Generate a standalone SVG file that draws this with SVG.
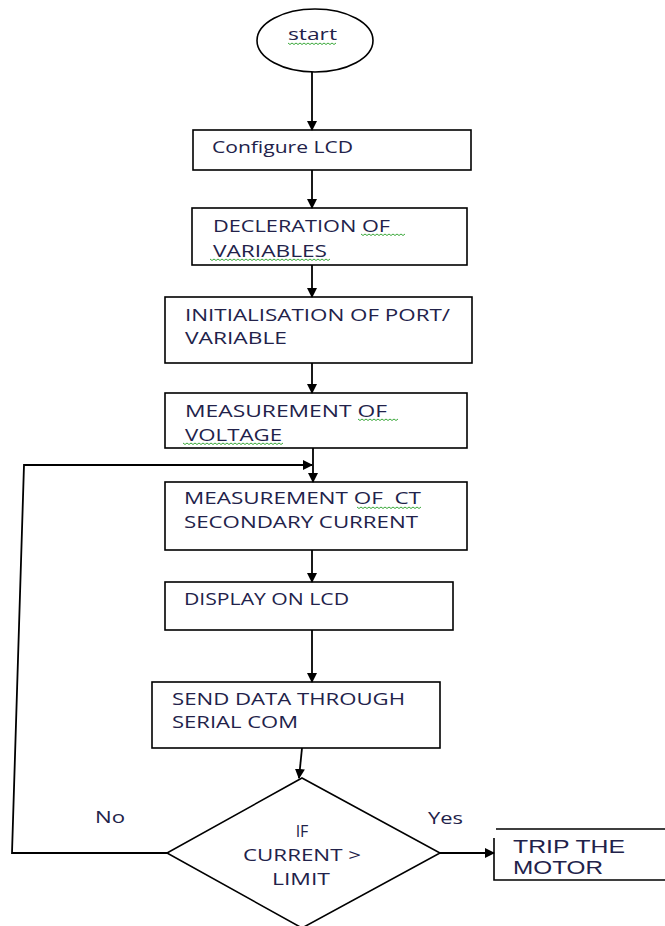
<svg xmlns="http://www.w3.org/2000/svg" width="665" height="926" viewBox="0 0 665 926">
<style>
.box{fill:#fff;stroke:#000;stroke-width:1.6}
.t{font-family:"Open Sans","Liberation Sans",sans-serif;font-size:16px;fill:#22224a}
.a{font-family:"Liberation Sans",Arial,sans-serif;font-size:18px;fill:#22224a}
.c{fill:none;stroke:#000;stroke-width:1.8}
.sq{fill:none;stroke:#3aa83a;stroke-width:1}
</style>
<defs>
<marker id="ah" markerWidth="10" markerHeight="10" refX="9" refY="5" orient="auto" markerUnits="userSpaceOnUse">
<path d="M0,0 L10,5 L0,10 Z" fill="#000"/>
</marker>
</defs>
<rect width="665" height="926" fill="#fff"/>
<g id="start">
<ellipse cx="315" cy="40.5" rx="58" ry="31.5" class="box"/>
<text class="t" x="288" y="40" textLength="49" lengthAdjust="spacingAndGlyphs">start</text>
</g>
<g id="configure">
<rect x="193" y="130" width="278" height="40" class="box"/>
<text class="t" x="212" y="153" textLength="141" lengthAdjust="spacingAndGlyphs">Configure LCD</text>
</g>
<g id="declaration">
<rect x="192" y="208" width="275" height="57" class="box"/>
<text class="t" x="213" y="232" textLength="177" lengthAdjust="spacingAndGlyphs">DECLERATION OF</text>
<text class="t" x="213" y="257" textLength="114" lengthAdjust="spacingAndGlyphs">VARIABLES</text>
</g>
<g id="init">
<rect x="165" y="297" width="307" height="66" class="box"/>
<text class="t" x="185" y="321" textLength="265" lengthAdjust="spacingAndGlyphs">INITIALISATION OF PORT/</text>
<text class="t" x="185" y="344" textLength="102" lengthAdjust="spacingAndGlyphs">VARIABLE</text>
</g>
<g id="voltage">
<rect x="165" y="393" width="302" height="55" class="box"/>
<text class="t" x="185" y="417" textLength="202" lengthAdjust="spacingAndGlyphs">MEASUREMENT OF</text>
<text class="t" x="185" y="441" textLength="97" lengthAdjust="spacingAndGlyphs">VOLTAGE</text>
</g>
<g id="current">
<rect x="165" y="482" width="302" height="68" class="box"/>
<text class="t" x="184" y="504" textLength="237" lengthAdjust="spacingAndGlyphs" xml:space="preserve">MEASUREMENT OF  CT</text>
<text class="t" x="184" y="528" textLength="234" lengthAdjust="spacingAndGlyphs">SECONDARY CURRENT</text>
</g>
<g id="display">
<rect x="165" y="582" width="288" height="48" class="box"/>
<text class="t" x="184" y="605" textLength="165" lengthAdjust="spacingAndGlyphs">DISPLAY ON LCD</text>
</g>
<g id="send">
<rect x="152" y="682" width="288" height="66" class="box"/>
<text class="t" x="172" y="705" textLength="233" lengthAdjust="spacingAndGlyphs">SEND DATA THROUGH</text>
<text class="t" x="172" y="728" textLength="126" lengthAdjust="spacingAndGlyphs">SERIAL COM</text>
</g>
<g id="decision">
<path d="M302,778 L440,853 L302,928 L167,853 Z" class="box"/>
<text class="t" x="302" y="837" text-anchor="middle">IF</text>
<text class="t" x="243" y="861" textLength="118" lengthAdjust="spacingAndGlyphs">CURRENT &gt;</text>
<text class="t" x="272" y="885" textLength="58" lengthAdjust="spacingAndGlyphs">LIMIT</text>
</g>
<g id="trip">
<path d="M496,829 L665,829 M494,838 L494,880 L665,880" fill="none" stroke="#000" stroke-width="1.6"/>
<text class="a" x="513" y="853" textLength="112" lengthAdjust="spacingAndGlyphs">TRIP THE</text>
<text class="a" x="513" y="874" textLength="90" lengthAdjust="spacingAndGlyphs">MOTOR</text>
</g>
<g id="connectors">
<line x1="312" y1="72" x2="312" y2="130" class="c" marker-end="url(#ah)"/>
<line x1="312" y1="170" x2="312" y2="208" class="c" marker-end="url(#ah)"/>
<line x1="312" y1="265" x2="312" y2="297" class="c" marker-end="url(#ah)"/>
<line x1="312" y1="363" x2="312" y2="393" class="c" marker-end="url(#ah)"/>
<line x1="313" y1="448" x2="313" y2="482" class="c" marker-end="url(#ah)"/>
<polyline points="167,853 12,853 24,465 312,465" class="c" marker-end="url(#ah)"/>
<line x1="312" y1="550" x2="312" y2="582" class="c" marker-end="url(#ah)"/>
<line x1="312" y1="630" x2="312" y2="682" class="c" marker-end="url(#ah)"/>
<line x1="302" y1="748" x2="299" y2="778" class="c" marker-end="url(#ah)"/>
<line x1="440" y1="853" x2="494" y2="853" class="c" marker-end="url(#ah)"/>
</g>
<g id="labels">
<text class="t" x="95" y="823" textLength="30" lengthAdjust="spacingAndGlyphs">No</text>
<text class="t" x="428" y="824" textLength="35" lengthAdjust="spacingAndGlyphs">Yes</text>
</g>
<g id="squiggles">
<path class="sq" d="M288,43 l2,1.5 l2,-1.5 l2,1.5 l2,-1.5 l2,1.5 l2,-1.5 l2,1.5 l2,-1.5 l2,1.5 l2,-1.5 l2,1.5 l2,-1.5 l2,1.5 l2,-1.5 l2,1.5 l2,-1.5 l2,1.5 l2,-1.5 l2,1.5 l2,-1.5 l2,1.5 l2,-1.5 l2,1.5 l2,-1.5"/>
<path class="sq" d="M361,234 l2,1.5 l2,-1.5 l2,1.5 l2,-1.5 l2,1.5 l2,-1.5 l2,1.5 l2,-1.5 l2,1.5 l2,-1.5 l2,1.5 l2,-1.5 l2,1.5 l2,-1.5 l2,1.5 l2,-1.5 l2,1.5 l2,-1.5 l2,1.5 l2,-1.5 l2,1.5 l2,-1.5"/>
<path class="sq" d="M210,259 l2,1.5 l2,-1.5 l2,1.5 l2,-1.5 l2,1.5 l2,-1.5 l2,1.5 l2,-1.5 l2,1.5 l2,-1.5 l2,1.5 l2,-1.5 l2,1.5 l2,-1.5 l2,1.5 l2,-1.5 l2,1.5 l2,-1.5 l2,1.5 l2,-1.5 l2,1.5 l2,-1.5 l2,1.5 l2,-1.5 l2,1.5 l2,-1.5 l2,1.5 l2,-1.5 l2,1.5 l2,-1.5 l2,1.5 l2,-1.5 l2,1.5 l2,-1.5 l2,1.5 l2,-1.5 l2,1.5 l2,-1.5 l2,1.5 l2,-1.5 l2,1.5 l2,-1.5 l2,1.5 l2,-1.5 l2,1.5 l2,-1.5 l2,1.5 l2,-1.5 l2,1.5 l2,-1.5 l2,1.5 l2,-1.5 l2,1.5 l2,-1.5 l2,1.5 l2,-1.5 l2,1.5 l2,-1.5 l2,1.5 l2,-1.5"/>
<path class="sq" d="M358,419 l2,1.5 l2,-1.5 l2,1.5 l2,-1.5 l2,1.5 l2,-1.5 l2,1.5 l2,-1.5 l2,1.5 l2,-1.5 l2,1.5 l2,-1.5 l2,1.5 l2,-1.5 l2,1.5 l2,-1.5 l2,1.5 l2,-1.5 l2,1.5 l2,-1.5"/>
<path class="sq" d="M183,443 l2,1.5 l2,-1.5 l2,1.5 l2,-1.5 l2,1.5 l2,-1.5 l2,1.5 l2,-1.5 l2,1.5 l2,-1.5 l2,1.5 l2,-1.5 l2,1.5 l2,-1.5 l2,1.5 l2,-1.5 l2,1.5 l2,-1.5 l2,1.5 l2,-1.5 l2,1.5 l2,-1.5 l2,1.5 l2,-1.5 l2,1.5 l2,-1.5 l2,1.5 l2,-1.5 l2,1.5 l2,-1.5 l2,1.5 l2,-1.5 l2,1.5 l2,-1.5 l2,1.5 l2,-1.5 l2,1.5 l2,-1.5 l2,1.5 l2,-1.5 l2,1.5 l2,-1.5 l2,1.5 l2,-1.5 l2,1.5 l2,-1.5 l2,1.5 l2,-1.5 l2,1.5 l2,-1.5"/>
<path class="sq" d="M357,507 l2,1.5 l2,-1.5 l2,1.5 l2,-1.5 l2,1.5 l2,-1.5 l2,1.5 l2,-1.5 l2,1.5 l2,-1.5 l2,1.5 l2,-1.5 l2,1.5 l2,-1.5 l2,1.5 l2,-1.5 l2,1.5 l2,-1.5 l2,1.5 l2,-1.5 l2,1.5 l2,-1.5 l2,1.5 l2,-1.5 l2,1.5 l2,-1.5 l2,1.5 l2,-1.5 l2,1.5 l2,-1.5 l2,1.5 l2,-1.5"/>
</g>
</svg>
